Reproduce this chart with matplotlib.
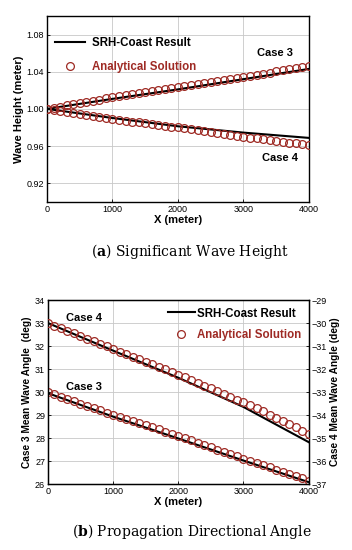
import numpy as np
import matplotlib
matplotlib.use("Agg")
import matplotlib.pyplot as plt
from matplotlib.lines import Line2D

# x positions of the analytical points (every 100 m) and of the model line
x_ana = np.arange(0, 4001, 100)
x_sim = [0, 1000, 2000, 3000, 4000]

# (a) significant wave height (m)
h3_ana = [1.0000, 1.0012, 1.0025, 1.0037, 1.0050, 1.0062, 1.0075, 1.0087, 1.0100, 1.0112, 1.0125,
          1.0136, 1.0147, 1.0158, 1.0169, 1.0180, 1.0191, 1.0202, 1.0213, 1.0224, 1.0235,
          1.0246, 1.0257, 1.0268, 1.0279, 1.0290, 1.0301, 1.0312, 1.0323, 1.0334, 1.0345,
          1.0357, 1.0368, 1.0380, 1.0391, 1.0403, 1.0414, 1.0426, 1.0437, 1.0449, 1.0460]
h4_ana = [1.0000, 0.9989, 0.9978, 0.9967, 0.9956, 0.9945, 0.9934, 0.9923, 0.9912, 0.9901, 0.9890,
          0.9881, 0.9872, 0.9863, 0.9854, 0.9845, 0.9836, 0.9827, 0.9818, 0.9809, 0.9800,
          0.9790, 0.9780, 0.9770, 0.9760, 0.9750, 0.9740, 0.9730, 0.9720, 0.9710, 0.9700,
          0.9691, 0.9682, 0.9673, 0.9664, 0.9655, 0.9646, 0.9637, 0.9628, 0.9619, 0.9610]
h3_sim = [1.000, 1.0108, 1.0210, 1.0320, 1.0430]
h4_sim = [1.000, 0.9902, 0.9813, 0.9745, 0.9688]

# (b) mean wave angle (deg); case 3 on left axis, case 4 on right axis
a3_ana = [30.00, 29.90, 29.80, 29.70, 29.60, 29.50, 29.40, 29.30, 29.20, 29.10, 29.00,
          28.91, 28.82, 28.73, 28.64, 28.55, 28.46, 28.37, 28.28, 28.19, 28.10,
          28.00, 27.90, 27.80, 27.70, 27.60, 27.50, 27.40, 27.30, 27.20, 27.10,
          27.01, 26.91, 26.82, 26.72, 26.63, 26.53, 26.44, 26.34, 26.25, 26.15]
a4_ana = [-30.00, -30.11, -30.23, -30.34, -30.45, -30.57, -30.68, -30.79, -30.90, -31.02, -31.13,
          -31.24, -31.35, -31.46, -31.58, -31.69, -31.80, -31.91, -32.02, -32.14, -32.25,
          -32.36, -32.48, -32.60, -32.72, -32.84, -32.96, -33.08, -33.20, -33.33, -33.45,
          -33.58, -33.71, -33.84, -33.98, -34.12, -34.26, -34.40, -34.54, -34.69, -34.83]
a3_sim = [29.95, 28.93, 27.98, 27.02, 26.08]
a4_sim = [-30.0, -31.2, -32.38, -33.65, -35.18]

x_ticks = [0, 1000, 2000, 3000, 4000]
h_ticks = [0.92, 0.96, 1.00, 1.04, 1.08]
a3_ticks = list(range(26, 35))
a4_ticks = list(range(-37, -28))
legend_labels = ["SRH-Coast Result", "Analytical Solution"]

RED = "#9e2a24"
plt.rcParams["font.family"] = ["Liberation Sans", "DejaVu Sans"]
plt.rcParams["mathtext.fontset"] = "dejavuserif"

mk = dict(linestyle="none", marker="o", markersize=5.6, markerfacecolor="none",
          markeredgecolor=RED, markeredgewidth=0.9)


def style_axis(ax):
    ax.grid(True, color="#c8c8c8", linewidth=0.6)
    ax.set_axisbelow(True)
    ax.tick_params(direction="in", length=2, width=0.6, labelsize=6.5, pad=2)
    for s in ax.spines.values():
        s.set_linewidth(1.0)


fig = plt.figure(figsize=(3.52, 5.50), dpi=100)

# ---- (a) wave height ----
ax1 = fig.add_axes([0.1335, 0.633, 0.744, 0.338])
ax1.plot(x_sim, h3_sim, color="black", linewidth=1.5, zorder=2)
ax1.plot(x_sim, h4_sim, color="black", linewidth=1.5, zorder=2)
ax1.plot(x_ana, h3_ana, zorder=3, **mk)
ax1.plot(x_ana, h4_ana, zorder=3, **mk)
ax1.set_xlim(0, 4000)
ax1.set_ylim(0.90, 1.10)
ax1.set_xticks(x_ticks)
ax1.set_yticks(h_ticks)
ax1.set_yticklabels([f"{v:.2f}" for v in h_ticks])
style_axis(ax1)
ax1.set_xlabel("X (meter)", fontsize=8, fontweight="bold", labelpad=1)
ax1.set_ylabel("Wave Height (meter)", fontsize=8, fontweight="bold", labelpad=2)
ax1.text(3480, 1.0606, "Case 3", fontsize=8, fontweight="bold", ha="center", va="center")
ax1.text(3560, 0.9477, "Case 4", fontsize=8, fontweight="bold", ha="center", va="center")

handles = [Line2D([], [], color="black", linewidth=1.5), Line2D([], [], **mk)]
leg1 = ax1.legend(handles, legend_labels, loc="upper left", frameon=False,
                  prop={"weight": "bold", "size": 8.3},
                  handlelength=2.6, handletextpad=0.6, labelspacing=1.05,
                  bbox_to_anchor=(0.0, 0.93), borderaxespad=0.3)
leg1.get_texts()[1].set_color(RED)

fig.text(0.54, 0.542, r"($\mathbf{a}$) Significant Wave Height", ha="center", va="center",
         fontsize=10, family="DejaVu Serif")

# ---- (b) wave angle ----
ax2 = fig.add_axes([0.136, 0.12, 0.741, 0.3345])
ax3 = ax2.twinx()
ax2.plot(x_sim, a3_sim, color="black", linewidth=1.5, zorder=2)
ax2.plot(x_ana, a3_ana, zorder=3, **mk)
ax3.plot(x_sim, a4_sim, color="black", linewidth=1.5, zorder=2)
ax3.plot(x_ana, a4_ana, zorder=3, **mk)
ax2.set_xlim(0, 4000)
ax2.set_ylim(26, 34)
ax3.set_ylim(-37, -29)
ax2.set_xticks(x_ticks)
ax2.set_yticks(a3_ticks)
ax3.set_yticks(a4_ticks)
style_axis(ax2)
ax3.tick_params(direction="in", length=2, width=0.6, labelsize=6.5, pad=2)
ax2.set_xlabel("X (meter)", fontsize=8, fontweight="bold", labelpad=1)
ax2.set_ylabel("Case 3 Mean Wave Angle  (deg)", fontsize=7.3, fontweight="bold", labelpad=2)
ax3.set_ylabel("Case 4 Mean Wave Angle (deg)", fontsize=7.3, fontweight="bold", labelpad=2)
ax2.text(276, 33.22, "Case 4", fontsize=8, fontweight="bold", va="center")
ax2.text(276, 30.22, "Case 3", fontsize=8, fontweight="bold", va="center")

leg2 = ax3.legend(handles, legend_labels, loc="upper right", frameon=False,
                  prop={"weight": "bold", "size": 8.3},
                  handlelength=2.3, handletextpad=0.2, labelspacing=0.8, borderaxespad=0.25)
leg2.get_texts()[1].set_color(RED)

fig.text(0.545, 0.033, r"($\mathbf{b}$) Propagation Directional Angle", ha="center", va="center",
         fontsize=10, family="DejaVu Serif")

fig.savefig("out.png", dpi=100)
